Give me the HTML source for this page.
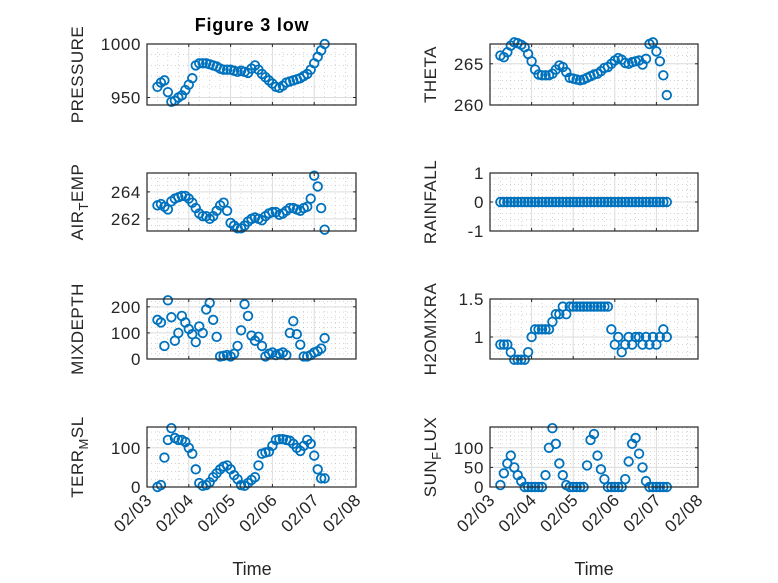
<!DOCTYPE html>
<html><head><meta charset="utf-8"><style>
body{margin:0;background:#fff;}
svg{display:block;font-family:"Liberation Sans",sans-serif;}
</style></head><body>
<svg id="fig" width="778" height="583" viewBox="0 0 778 583">
<text x="252" y="31" text-anchor="middle" font-size="18" font-weight="bold" letter-spacing="0.8" fill="#000">Figure 3 low</text>
<text x="252" y="575" text-anchor="middle" font-size="18" fill="#262626">Time</text>
<text x="594" y="575" text-anchor="middle" font-size="18" fill="#262626">Time</text>
</svg>
<script>
const dayLabels = ["02/03","02/04","02/05","02/06","02/07","02/08"];
const pressure = [960,964,966,955,946,947,950,952,957,962,968,980,982,982,982,981,980,979,977,976,976,976,975,974,975,974,973,977,980,976,972,969,966,963,960,959,961,964,965,966,967,968,970,972,976,982,988,994,1000];
const theta = [266.0,265.8,266.4,267.2,267.6,267.5,267.3,267.0,266.2,265.3,264.3,263.7,263.6,263.6,263.6,263.8,264.3,264.8,264.6,264.0,263.3,263.2,263.1,263.0,263.1,263.3,263.5,263.7,263.8,264.1,264.5,264.6,265.0,265.4,265.7,265.5,265.1,265.0,265.2,265.3,265.4,264.9,265.6,267.4,267.6,266.5,265.3,263.6,261.2];
const airTemp = [263.0,263.1,262.9,262.7,263.3,263.5,263.6,263.7,263.7,263.5,263.2,262.8,262.4,262.2,262.2,262.0,262.2,262.6,263.0,263.2,262.6,261.7,261.5,261.3,261.3,261.5,261.8,262.0,262.1,262.0,261.9,262.2,262.4,262.5,262.5,262.3,262.4,262.6,262.8,262.8,262.7,262.6,262.8,262.9,263.5,265.2,264.4,262.8,261.2];
const rainfall = [0,0,0,0,0,0,0,0,0,0,0,0,0,0,0,0,0,0,0,0,0,0,0,0,0,0,0,0,0,0,0,0,0,0,0,0,0,0,0,0,0,0,0,0,0,0,0,0,0];
const mixDepth = [150,140,50,225,160,70,100,165,140,115,95,65,125,100,190,215,150,85,10,12,15,10,20,50,110,210,165,90,70,85,50,10,20,25,15,20,25,15,100,145,95,55,10,10,15,25,30,40,80];
const h2oMix = [0.9,0.9,0.9,0.8,0.7,0.7,0.7,0.7,0.8,1.0,1.1,1.1,1.1,1.1,1.1,1.2,1.3,1.3,1.4,1.3,1.4,1.4,1.4,1.4,1.4,1.4,1.4,1.4,1.4,1.4,1.4,1.4,1.1,0.9,1.0,0.8,0.9,1.0,0.9,1.0,1.0,0.9,1.0,0.9,1.0,0.9,1.0,1.1,1.0];
const terrMsl = [0,5,75,120,150,125,120,120,115,100,85,45,10,3,5,12,25,35,45,52,55,45,30,20,5,3,10,18,25,55,85,88,90,105,120,122,122,120,118,110,100,92,105,120,110,80,45,22,22];
const sunFlux = [5,35,60,80,50,30,15,0,0,0,0,0,0,30,100,150,110,60,30,5,0,0,0,0,0,55,120,135,80,45,20,0,0,0,0,0,20,65,110,125,85,50,15,0,0,0,0,0,0];
const pressureTicks = [950,1000];
const thetaTicks = [260,265];
const airTicks = [262,264];
const rainTicks = [-1,0,1];
const mixTicks = [0,100,200];
const h2oTicks = [1,1.5];
const terrTicks = [0,100];
const sunTicks = [0,50,100];

const NS="http://www.w3.org/2000/svg";
const svg=document.getElementById('fig');
function mk(tag,attrs,parent){const e=document.createElementNS(NS,tag);for(const k in attrs)e.setAttribute(k,attrs[k]);(parent||svg).appendChild(e);return e;}
const cols={L:[147,356],R:[490,698]};
const rows=[[44,105],[173,231],[299,359],[427,487]];
const panels=[
 {name:'pressure',col:'L',row:0,data:pressure,ticks:pressureTicks,ylim:[943,1000],minor:10,label:['PRESSURE']},
 {name:'theta',col:'R',row:0,data:theta,ticks:thetaTicks,ylim:[260,267.4],minor:1,label:['THETA']},
 {name:'air-temp',col:'L',row:1,data:airTemp,ticks:airTicks,ylim:[261.1,265.4],minor:0.5,label:['AIR','T','EMP']},
 {name:'rainfall',col:'R',row:1,data:rainfall,ticks:rainTicks,ylim:[-1,1],minor:0.2,label:['RAINFALL']},
 {name:'mixdepth',col:'L',row:2,data:mixDepth,ticks:mixTicks,ylim:[0,230],minor:20,label:['MIXDEPTH']},
 {name:'h2omixra',col:'R',row:2,data:h2oMix,ticks:h2oTicks,ylim:[0.71,1.5],minor:0.1,label:['H2OMIXRA']},
 {name:'terr-msl',col:'L',row:3,data:terrMsl,ticks:terrTicks,ylim:[0,153],minor:20,label:['TERR','M','SL'],xt:true},
 {name:'sun-flux',col:'R',row:3,data:sunFlux,ticks:sunTicks,ylim:[0,153],minor:10,label:['SUN','F','LUX'],xt:true}
];
panels.forEach(p=>{
 const [x0,x1]=cols[p.col],[y0,y1]=rows[p.row];
 const xs=d=>x0+(d/5)*(x1-x0);
 const ys=v=>y1-(v-p.ylim[0])/(p.ylim[1]-p.ylim[0])*(y1-y0);
 const g=mk('g',{});
 
 
 mk('rect',{x:x0,y:y0,width:x1-x0,height:y1-y0,fill:'#fff'},g);
 for(let d=0.25;d<5;d+=0.25){ if(Math.abs(d-Math.round(d))<1e-6)continue;
  mk('line',{x1:xs(d),x2:xs(d),y1:y0,y2:y1,stroke:'#bbb','stroke-width':0.6,'stroke-dasharray':'1 3'},g);}
 const m0=Math.ceil(p.ylim[0]/p.minor)*p.minor;
 for(let v=m0;v<p.ylim[1];v+=p.minor){
  mk('line',{x1:x0,x2:x1,y1:ys(v),y2:ys(v),stroke:'#bbb','stroke-width':0.6,'stroke-dasharray':'1 3'},g);}
 for(let d=1;d<5;d++) mk('line',{x1:xs(d),x2:xs(d),y1:y0,y2:y1,stroke:'#dcdcdc','stroke-width':1},g);
 p.ticks.forEach(v=>{
  mk('line',{x1:x0,x2:x1,y1:ys(v),y2:ys(v),stroke:'#dcdcdc','stroke-width':1},g);
  mk('line',{x1:x0,x2:x0+3,y1:ys(v),y2:ys(v),stroke:'#262626'},g);
  mk('line',{x1:x1,x2:x1-3,y1:ys(v),y2:ys(v),stroke:'#262626'},g);
  const t=mk('text',{x:x0-6,y:ys(v)+6,'text-anchor':'end','font-size':17,'letter-spacing':0.6,fill:'#262626'},g);
  t.textContent=String(v);
  
  
 });
 for(let d=0;d<=5;d++){
  mk('line',{x1:xs(d),x2:xs(d),y1:y1,y2:y1-3,stroke:'#262626'},g);
  mk('line',{x1:xs(d),x2:xs(d),y1:y0,y2:y0+3,stroke:'#262626'},g);
  if(p.xt){
   const tx=xs(d)+6, ty=y1+14;
   const t=mk('text',{x:tx,y:ty,'text-anchor':'end','font-size':17,'letter-spacing':0.6,fill:'#262626',transform:`rotate(-45 ${tx} ${ty})`},g);
   t.textContent=dayLabels[d];
   
   
  }
 }
 p.data.forEach((v,i)=>{
  const d=0.25+i/12;
  const c=mk('circle',{cx:xs(d),cy:ys(v),r:4.3,fill:'none',stroke:'#0072BD','stroke-width':1.8},g);
  
  
 });
 mk('rect',{x:x0,y:y0,width:x1-x0,height:y1-y0,fill:'none',stroke:'#262626','stroke-width':1.2},g);
 const lx=p.col==='L'?83:436, ly=(y0+y1)/2;
 const t=mk('text',{x:lx,y:ly,'text-anchor':'middle','font-size':17,'letter-spacing':0.5,fill:'#262626',transform:`rotate(-90 ${lx} ${ly})`},g);
 
 
 if(p.label.length===1){t.textContent=p.label[0];}
 else{
  const a=mk('tspan',{},t);a.textContent=p.label[0];
  const b=mk('tspan',{dy:5,'font-size':13},t);b.textContent=p.label[1];
  const c=mk('tspan',{dy:-5},t);c.textContent=p.label[2];
 }
});
</script>
</body></html>
